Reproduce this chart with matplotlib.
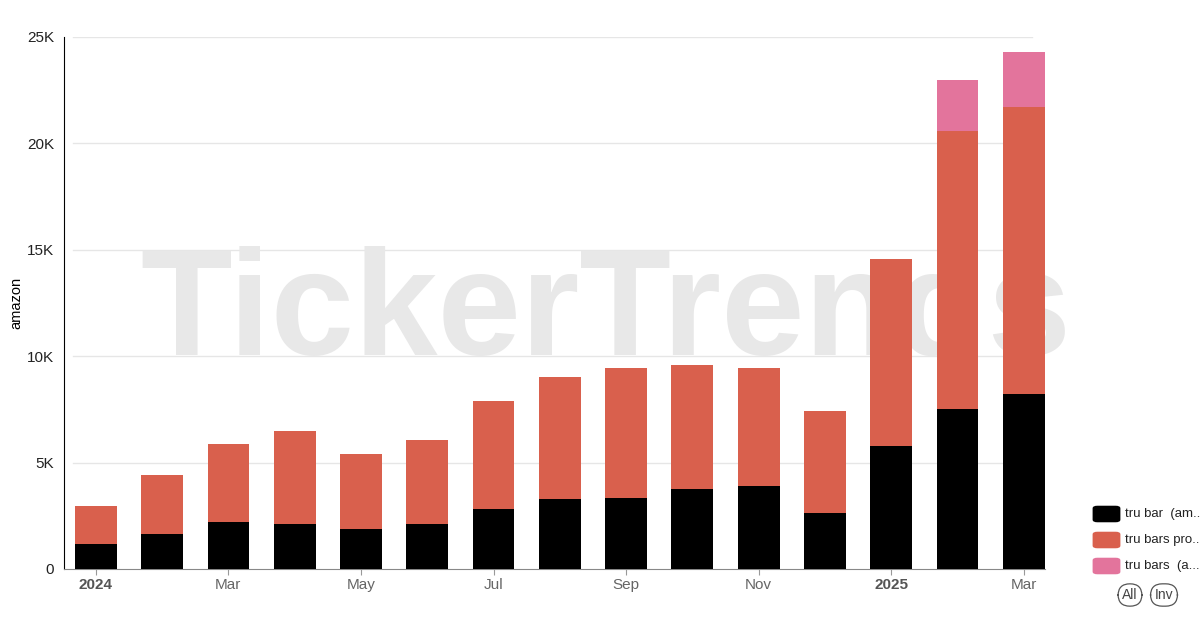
import matplotlib
matplotlib.use("Agg")
import matplotlib.pyplot as plt
from matplotlib.patches import FancyBboxPatch
import numpy as np

plt.rcParams['font.family'] = ['Liberation Sans', 'DejaVu Sans']

months = ["Jan 2024", "Feb 2024", "Mar 2024", "Apr 2024", "May 2024", "Jun 2024",
          "Jul 2024", "Aug 2024", "Sep 2024", "Oct 2024", "Nov 2024", "Dec 2024",
          "Jan 2025", "Feb 2025", "Mar 2025"]
tru_bar = [1170, 1640, 2200, 2110, 1880, 2110, 2820, 3290, 3340, 3760, 3900, 2630, 5780, 7520, 8220]
tru_bars_pro = [1790, 2780, 3670, 4370, 3520, 3950, 5080, 5730, 6110, 5830, 5550, 4790, 8790, 13060, 13490]
tru_bars_a = [0, 0, 0, 0, 0, 0, 0, 0, 0, 0, 0, 0, 0, 2400, 2590]
tick_labels = ["2024", "Mar", "May", "Jul", "Sep", "Nov", "2025", "Mar"]
tick_idx = [0, 2, 4, 6, 8, 10, 12, 14]
legend_labels = ["tru bar  (am..", "tru bars pro..", "tru bars  (a..."]
colors = ["#000000", "#d9604d", "#e3749c"]

fig = plt.figure(figsize=(12, 6.4), dpi=100)
ax = fig.add_axes([64/1200, (640-569)/640, (1045-64)/1200, (569-37)/640])

x = np.arange(len(months))
w = 0.63
b1 = np.array(tru_bar)
b2 = np.array(tru_bars_pro)
b3 = np.array(tru_bars_a)
ax.bar(x, b1, w, color=colors[0], zorder=3)
ax.bar(x, b2, w, bottom=b1, color=colors[1], zorder=3)
ax.bar(x, b3, w, bottom=b1 + b2, color=colors[2], zorder=3)

ax.set_xlim(-0.48, 14.32)
ax.set_ylim(0, 25000)

# gridlines
for yv in range(5000, 25001, 5000):
    ax.plot([-0.35, 14.12], [yv, yv], color="#e6e6e6", lw=1, zorder=1)

# watermark
ax.text(7.7, 11900, "TickerTrends", ha="center", va="center", fontsize=108,
        fontweight="bold", color="#e8e8e8", zorder=2)

ax.set_yticks([0, 5000, 10000, 15000, 20000, 25000])
ax.set_yticklabels(["0", "5K", "10K", "15K", "20K", "25K"], fontsize=11, color="#222222")
ax.tick_params(axis="y", length=0, pad=7)
ax.set_xticks(tick_idx)
ax.set_xticklabels(tick_labels, fontsize=11, color="#666666")
for lab in ax.get_xticklabels():
    lab.set_verticalalignment("baseline")
    if lab.get_text() in ("2024", "2025"):
        lab.set_fontweight("bold")
        lab.set_color("#555555")
ax.tick_params(axis="x", length=4, color="#999999", pad=10.5)

for s in ["top", "right"]:
    ax.spines[s].set_visible(False)
ax.spines["left"].set_color("#000000")
ax.spines["bottom"].set_color("#888888")
ax.set_ylabel("amazon", fontsize=10.5, va="center")
ax.yaxis.set_label_coords(-48/981, 0.5)

# legend
for i, (lab, c) in enumerate(zip(legend_labels, colors)):
    yc = 1 - (514 + i * 26) / 640
    patch = FancyBboxPatch((1095/1200, yc - 7/640), 23/1200, 14/640,
                           boxstyle="round,pad=0.002,rounding_size=0.004",
                           transform=fig.transFigure, facecolor=c, edgecolor="none")
    fig.patches.append(patch)
    fig.text(1125/1200, yc, lab, fontsize=9.5, va="center", ha="left", color="#222222")

for txt, xc in [("All", 1130), ("Inv", 1164)]:
    fig.text(xc/1200, 1 - 595/640, txt, fontsize=10, ha="center", va="center", color="#444444",
             bbox=dict(boxstyle="round,pad=0.3,rounding_size=0.85", fc="white", ec="#555555", lw=0.9))

fig.savefig("out.png", dpi=100)
